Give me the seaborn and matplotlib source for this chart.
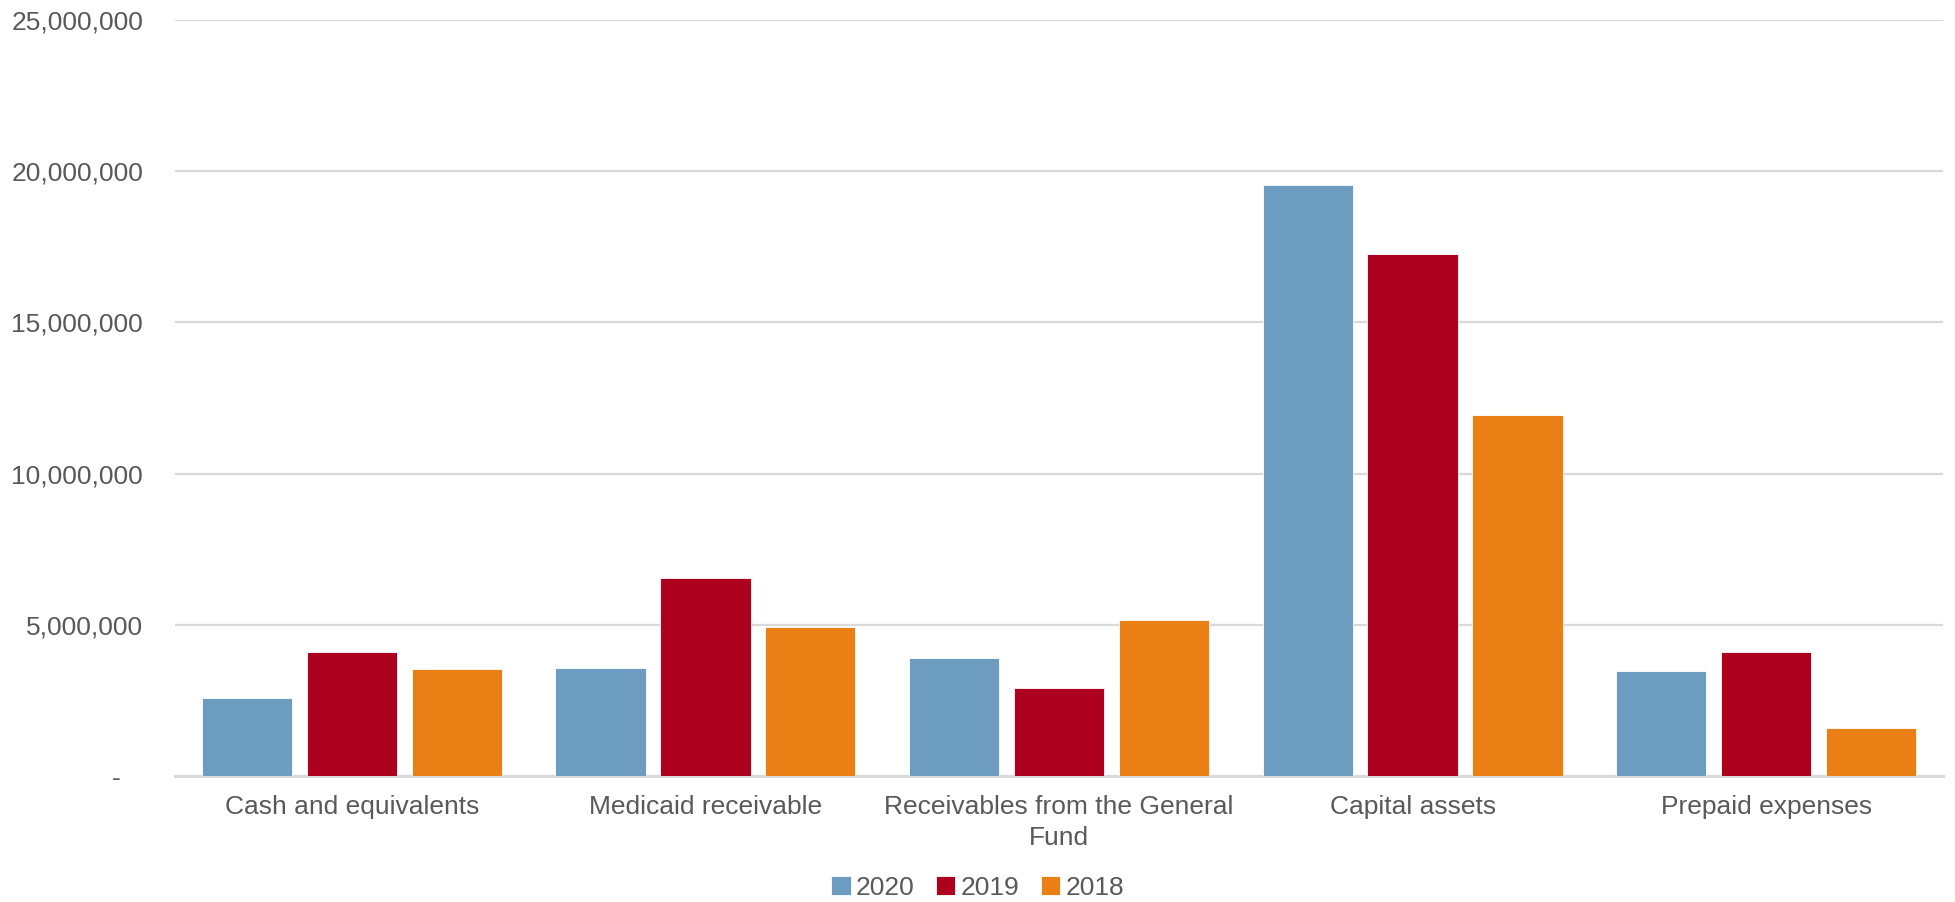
import matplotlib
matplotlib.use("Agg")
import matplotlib.pyplot as plt
import seaborn as sns
import pandas as pd
from matplotlib.ticker import FuncFormatter, MultipleLocator

categories = ["Cash and equivalents", "Medicaid receivable",
              "Receivables from the General\nFund", "Capital assets", "Prepaid expenses"]
years = ["2020", "2019", "2018"]
values_2020 = [2574000, 3556000, 3890000, 19530000, 3457000]
values_2019 = [4108000, 6553000, 2910000, 17260000, 4094000]
values_2018 = [3523000, 4914000, 5155000, 11950000, 1573000]
colors = ["#6C9DC0", "#AD001E", "#EA7F15"]

rows = []
for yr, vals in zip(years, [values_2020, values_2019, values_2018]):
    for c, v in zip(categories, vals):
        rows.append({"category": c, "year": yr, "value": v})
df = pd.DataFrame(rows)

sns.set_theme(style="white")
plt.rcParams["font.family"] = ["Liberation Sans", "DejaVu Sans"]

fig = plt.figure(figsize=(19.55, 9.02), dpi=100)
ax = fig.add_axes([175/1955, 1 - 776/902, (1943 - 175)/1955, (776 - 20)/902])

sns.barplot(data=df, x="category", y="value", hue="year", order=categories,
            hue_order=years, palette=colors, saturation=1, width=0.89, gap=0.14,
            edgecolor="white", linewidth=0.6, errorbar=None, ax=ax, zorder=3)

ax.set_ylim(0, 25000000)
ax.yaxis.set_major_locator(MultipleLocator(5000000))
ax.yaxis.set_major_formatter(FuncFormatter(lambda v, p: "-   " if v == 0 else f"{int(v):,}"))
ax.grid(axis="y", color="#d9d9d9", linewidth=1.6, zorder=0)
ax.set_axisbelow(True)
for s in ["top", "right", "left"]:
    ax.spines[s].set_visible(False)
ax.spines["bottom"].set_color("#d9d9d9")
ax.spines["bottom"].set_linewidth(2.2)
ax.set_xlabel("")
ax.set_ylabel("")
ax.tick_params(axis="y", length=0, pad=23, labelsize=19, labelcolor="#595959")
ax.tick_params(axis="x", length=0, pad=14, labelsize=19, labelcolor="#595959")
for lbl in ax.get_xticklabels():
    lbl.set_linespacing(1.35)
ax.set_xlim(-0.5, len(categories) - 0.5)

ax.get_legend().remove()
handles, labels = ax.get_legend_handles_labels()
fig.legend(handles, labels, loc="center", bbox_to_anchor=(0.5, 1 - 888/902), ncol=3,
           frameon=False, fontsize=19, handlelength=0.75, handleheight=0.75,
           handletextpad=0.2, columnspacing=0.8, labelcolor="#595959")

fig.savefig("out.png", dpi=100, facecolor="white")
